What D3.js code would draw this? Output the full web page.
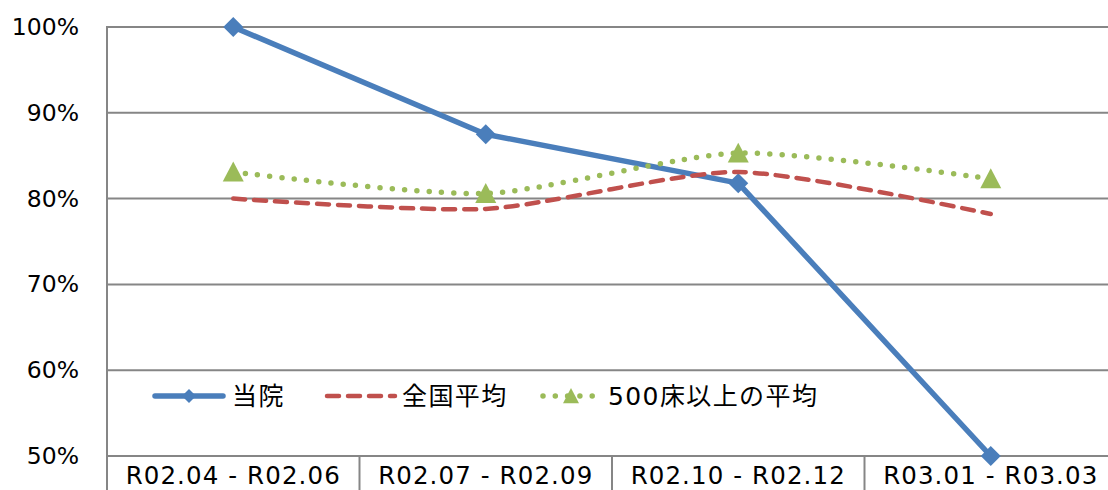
<!DOCTYPE html>
<html>
<head>
<meta charset="utf-8">
<script src="https://cdn.jsdelivr.net/npm/d3@7"></script>
<style>
    html, body { margin: 0; padding: 0; background: #fff; overflow: hidden; }
    svg { display: block; }
    text { font-family: "DejaVu Sans", Verdana, "Noto Sans CJK JP", sans-serif; fill: #000; }
</style>
</head>
<body>
<div id="chart"></div>
<script>
// 期間
const categories = ['R02.04 - R02.06', 'R02.07 - R02.09', 'R02.10 - R02.12', 'R03.01 - R03.03'];
// 各系列 (割合)
const touin = [1.000, 0.875, 0.818, 0.500];
const zenkoku = [0.800, 0.788, 0.831, 0.782];
const bed500 = [0.831, 0.806, 0.853, 0.823];
const yTicks = [0.5, 0.6, 0.7, 0.8, 0.9, 1.0];

const seriesList = [
    { name: '当院', values: touin, color: '#4a7ebb', width: 5.5, dash: null, marker: 'diamond', smooth: false },
    { name: '全国平均', values: zenkoku, color: '#c0504d', width: 4.5, dash: '12,9', marker: null, smooth: true },
    { name: '500床以上の平均', values: bed500, color: '#9bbb59', width: 5.5, dash: '0,12.3', marker: 'triangle', smooth: true }
];

const W = 1108, H = 490;
const svg = d3.select('#chart').append('svg').attr('width', W).attr('height', H);

const x = d3.scaleBand().domain(categories).range([107, 1117]).padding(0);
const y = d3.scaleLinear().domain([0.5, 1.0]).range([456, 27]);
const cx = c => x(c) + x.bandwidth() / 2;

const gridColor = '#868686';

// 横グリッド
svg.append('g').selectAll('line').data(yTicks).join('line')
    .attr('x1', 107).attr('x2', W)
    .attr('y1', d => y(d)).attr('y2', d => y(d))
    .attr('stroke', gridColor).attr('stroke-width', 2);

// Y軸
svg.append('line').attr('x1', 107).attr('x2', 107).attr('y1', y(1.0) - 1).attr('y2', H)
    .attr('stroke', gridColor).attr('stroke-width', 2);

svg.append('g').selectAll('text').data(yTicks).join('text')
    .attr('x', 79).attr('y', d => y(d))
    .attr('text-anchor', 'end').attr('dominant-baseline', 'central')
    .style('font-size', '23.5px')
    .text(d => Math.round(d * 100) + '%');

// 区切り線とカテゴリ
svg.append('g').selectAll('line').data(categories.slice(1)).join('line')
    .attr('x1', d => x(d)).attr('x2', d => x(d))
    .attr('y1', y(0.5)).attr('y2', H)
    .attr('stroke', gridColor).attr('stroke-width', 2);

svg.append('g').selectAll('text').data(categories).join('text')
    .attr('x', d => cx(d)).attr('y', 484)
    .attr('text-anchor', 'middle')
    .style('font-size', '24.5px').style('letter-spacing', '1.1px')
    .text(d => d);

const diamond = s => `M0,${-s}L${s},0L0,${s}L${-s},0Z`;
const triangle = s => `M0,${-s}L${s},${s * 0.9}L${-s},${s * 0.9}Z`;

// 系列
seriesList.forEach(s => {
    const line = d3.line()
        .x((d, i) => cx(categories[i]))
        .y(d => y(d))
        .curve(s.smooth ? d3.curveCardinal.tension(0.3) : d3.curveLinear);
    svg.append('path').datum(s.values)
        .attr('d', line)
        .attr('fill', 'none')
        .attr('stroke', s.color)
        .attr('stroke-width', s.width)
        .attr('stroke-linecap', 'round')
        .attr('stroke-linejoin', 'round')
        .attr('stroke-dasharray', s.dash);
    if (s.marker) {
        svg.append('g').selectAll('path').data(s.values).join('path')
            .attr('transform', (d, i) => `translate(${cx(categories[i])},${y(d)})`)
            .attr('d', s.marker === 'diamond' ? diamond(10) : triangle(10.5))
            .attr('fill', s.color);
    }
});

// 凡例
const legendItems = [
    { lx: 155, tx: 232 },
    { lx: 327, tx: 402 },
    { lx: 543, tx: 608 }
];
const legendY = 396;
seriesList.forEach((s, i) => {
    const it = legendItems[i];
    const len = i === 2 ? 56 : 68;
    const g = svg.append('g');
    g.append('line')
        .attr('x1', it.lx).attr('x2', it.lx + len)
        .attr('y1', legendY).attr('y2', legendY)
        .attr('stroke', s.color).attr('stroke-width', s.width)
        .attr('stroke-linecap', 'round')
        .attr('stroke-dasharray', s.dash);
    if (s.marker) {
        g.append('path')
            .attr('transform', `translate(${it.lx + len / 2},${legendY})`)
            .attr('d', s.marker === 'diamond' ? diamond(7) : triangle(8))
            .attr('fill', s.color);
    }
    g.append('text')
        .attr('x', it.tx).attr('y', legendY)
        .attr('dominant-baseline', 'central')
        .style('font-size', '25px').style('letter-spacing', '1.4px')
        .text(s.name);
});
</script>
</body>
</html>
